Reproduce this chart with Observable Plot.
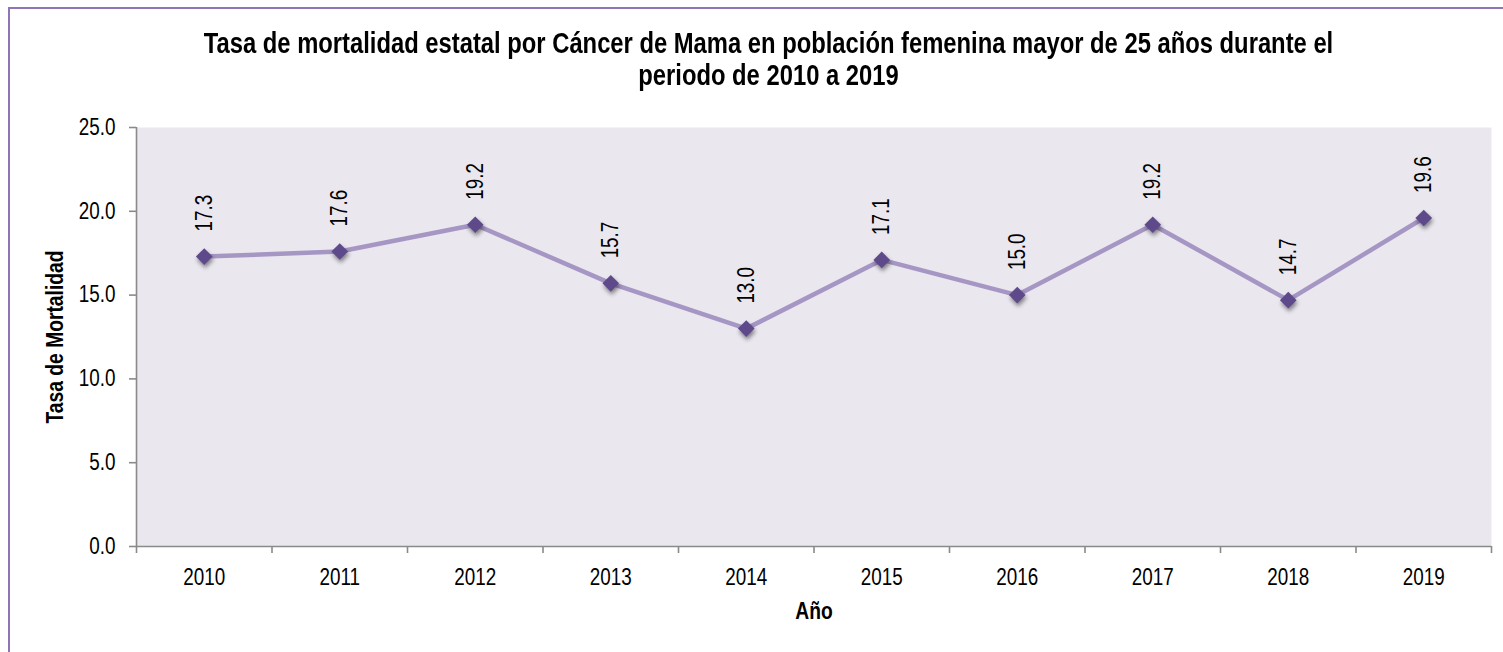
<!DOCTYPE html>
<html>
<head>
<meta charset="utf-8">
<script src="https://cdn.jsdelivr.net/npm/d3@7"></script>
<script src="https://cdn.jsdelivr.net/npm/@observablehq/plot@0.6"></script>
<style>
  body { margin: 0; background: #fff; overflow: hidden; }
  #wrap { position: relative; width: 1503px; height: 652px; overflow: hidden;
          font-family: "Liberation Sans", Arial, sans-serif; }
  #border { position: absolute; left: 8px; top: 7px; width: 1600px; height: 800px;
            border: 2px solid #8F74B6; box-sizing: border-box; }
  #title { position: absolute; left: 0; top: 0; width: 1503px; padding-left: 34px; padding-top: 27px;
           box-sizing: border-box; text-align: center; font-weight: bold; font-size: 29px;
           line-height: 32px; height: 100px; color: #000; white-space: nowrap;
           transform: scaleX(0.82); transform-origin: 768.5px 0; }
  #chart { position: absolute; left: 0; top: 100px; }
  #chart g[aria-label="dot"] path { filter: drop-shadow(1px 3px 2px rgba(0,0,0,0.45)); }
</style>
</head>
<body>
<div id="wrap">
  <div id="border"></div>
  <div id="title">Tasa de mortalidad estatal por Cáncer de Mama en población femenina mayor de 25 años durante el<br>periodo de 2010 a 2019</div>
  <div id="chart"></div>
</div>
<script>
const years = [2010, 2011, 2012, 2013, 2014, 2015, 2016, 2017, 2018, 2019];
const rates = [17.3, 17.6, 19.2, 15.7, 13.0, 17.1, 15.0, 19.2, 14.7, 19.6];
const yTicks = [0, 5, 10, 15, 20, 25];
const xTitle = "Año";
const yTitle = "Tasa de Mortalidad";

const data = years.map((y, i) => ({year: y, rate: rates[i]}));
const xDomain = [years[0] - 0.5, years[years.length - 1] + 0.5];
const boundaries = years.map(y => y - 0.5).concat([years[years.length - 1] + 0.5]);
const axisGray = "#8A8A8A";
const font = '"Liberation Sans", Arial, sans-serif';

const chart = Plot.plot({
  width: 1503,
  height: 552,
  marginLeft: 136,
  marginRight: 12,
  marginTop: 27,
  marginBottom: 106,
  style: {fontFamily: font, fontSize: "23px", background: "transparent", color: "#000", overflow: "visible"},
  x: {type: "linear", domain: xDomain},
  y: {domain: [0, 25]},
  marks: [
    Plot.frame({fill: "#EAE7EF", stroke: null}),
    Plot.ruleY([0], {stroke: axisGray, strokeWidth: 1.6}),
    Plot.ruleX([xDomain[0]], {stroke: axisGray, strokeWidth: 1.6}),
    Plot.axisY({ticks: yTicks, tickFormat: d => d.toFixed(1), tickSize: 7, tickPadding: 14,
                stroke: axisGray, strokeWidth: 1.6, fontSize: 23, label: null, fill: "#000"}),
    Plot.axisX({ticks: boundaries, tickSize: 7, tickFormat: () => "", stroke: axisGray, strokeWidth: 1.6, label: null}),
    Plot.axisX({ticks: years, tickSize: 0, tickPadding: 22, tickFormat: d => String(d), fontSize: 23, label: null, fill: "#000"}),
    Plot.line(data, {x: "year", y: "rate", stroke: "#A696C4", strokeWidth: 4.5}),
    Plot.dot(data, {x: "year", y: "rate", symbol: "diamond2", r: 7.5, fill: "#5E4A8B", stroke: null}),
    Plot.text(data, {x: "year", y: "rate", text: d => d.rate.toFixed(1), rotate: -90, textAnchor: "start",
                     dy: -25, fontSize: 23, fill: "#000"}),
    Plot.text([yTitle], {frameAnchor: "left", rotate: -90, textAnchor: "middle", lineAnchor: "middle",
                         dx: -81, fontSize: 23.5, fontWeight: "bold", fill: "#000"}),
    Plot.text([xTitle], {frameAnchor: "bottom", textAnchor: "middle", lineAnchor: "middle",
                         dy: 65, fontSize: 23.5, fontWeight: "bold", fill: "#000"})
  ]
});
// Narrow (condensed) lettering like the original: squeeze every text along its own baseline
d3.select(chart).selectAll("text").each(function () {
  const t = this.getAttribute("transform") || "";
  this.setAttribute("transform", (t + " scale(0.82,1)").trim());
});
document.getElementById("chart").appendChild(chart);
</script>
</body>
</html>
